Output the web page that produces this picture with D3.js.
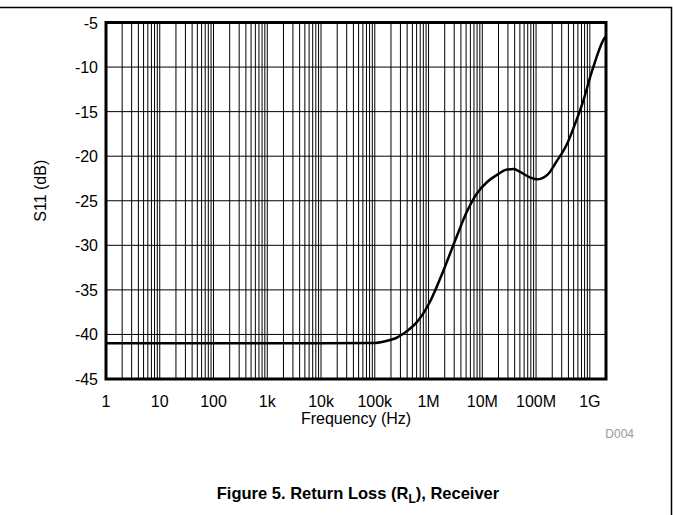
<!DOCTYPE html>
<html>
<head>
<meta charset="utf-8">
<script src="https://cdn.jsdelivr.net/npm/d3@7"></script>
<style>
  body { margin: 0; background: #fff; }
  svg { display: block; font-family: "Liberation Sans", Arial, sans-serif; }
</style>
</head>
<body>
<script>
// S11 return loss, receiver
var freqHz = [1, 10, 100, 1e3, 1e4, 1e5, 2e5, 2.5e5, 4e5, 5.9e5, 1.07e6, 1.87e6, 3.3e6, 5.1e6,
  7.9e6, 1.23e7, 1.87e7, 2.88e7, 3.86e7, 5.14e7, 7.9e7, 1.05e8, 1.62e8, 2.4e8, 3.92e8,
  4.78e8, 7.27e8, 1.12e9, 1.77e9, 1.95e9];
var s11dB = [-41, -41, -41, -41, -41, -40.95, -40.6, -40.4, -39.6, -38.7, -36.3, -32.9, -29.1, -26.3,
  -24.2, -22.9, -22.1, -21.5, -21.45, -21.8, -22.4, -22.6, -22.1, -20.6, -18.4,
  -17.1, -14.1, -10.3, -7.0, -6.6];

var xTickVals = [1, 10, 100, 1e3, 1e4, 1e5, 1e6, 1e7, 1e8, 1e9];
var xTickLabels = ["1", "10", "100", "1k", "10k", "100k", "1M", "10M", "100M", "1G"];
var yTickVals = [-45, -40, -35, -30, -25, -20, -15, -10, -5];

var W = 673, H = 515;
// note: "top" is taken by window.top, so plot edges get a prefix
var pLeft = 106, pRight = 606, pTop = 22.5, pBottom = 379;

var svg = d3.select("body").append("svg")
  .attr("width", W)
  .attr("height", H);

// outer frame (top + right only)
svg.append("path")
  .attr("d", "M0,7.5H671.5V515")
  .attr("fill", "none")
  .attr("stroke", "#000")
  .attr("stroke-width", 1.5);

var x = d3.scaleLog().domain([1, 2e9]).range([pLeft, pRight]);
var y = d3.scaleLinear().domain([-45, -5]).range([pBottom, pTop]);

// minor + major vertical grid
var gridF = [];
for (var e = 0; e <= 9; e++) {
  for (var m = 1; m <= 9; m++) {
    var f = m * Math.pow(10, e);
    if (f < 2e9) gridF.push(f);
  }
}
svg.append("g").selectAll("line")
  .data(gridF)
  .enter()
  .append("line")
  .attr("x1", function(d) { return x(d); })
  .attr("x2", function(d) { return x(d); })
  .attr("y1", pTop)
  .attr("y2", pBottom)
  .attr("stroke", "#000")
  .attr("stroke-width", 1);

svg.append("g").selectAll("line")
  .data(yTickVals)
  .enter()
  .append("line")
  .attr("x1", pLeft)
  .attr("x2", pRight)
  .attr("y1", function(d) { return y(d); })
  .attr("y2", function(d) { return y(d); })
  .attr("stroke", "#000")
  .attr("stroke-width", 1);

// curve
var line = d3.line()
  .x(function(d) { return x(d[0]); })
  .y(function(d) { return y(d[1]); })
  .curve(d3.curveMonotoneX);

svg.append("path")
  .datum(freqHz.map(function(f, i) { return [f, s11dB[i]]; }))
  .attr("d", line)
  .attr("fill", "none")
  .attr("stroke", "#000")
  .attr("stroke-width", 2.5);

// plot frame
svg.append("rect")
  .attr("x", pLeft)
  .attr("y", pTop)
  .attr("width", pRight - pLeft)
  .attr("height", pBottom - pTop)
  .attr("fill", "none")
  .attr("stroke", "#000")
  .attr("stroke-width", 3);

// axes labels
svg.append("g").selectAll("text")
  .data(xTickVals)
  .enter()
  .append("text")
  .text(function(d, i) { return xTickLabels[i]; })
  .attr("x", function(d) { return x(d); })
  .attr("y", 407)
  .attr("text-anchor", "middle")
  .attr("font-size", "16px")
  .attr("fill", "#000");

svg.append("g").selectAll("text")
  .data(yTickVals)
  .enter()
  .append("text")
  .text(function(d) { return d; })
  .attr("x", 98)
  .attr("y", function(d) { return y(d) + 6; })
  .attr("text-anchor", "end")
  .attr("font-size", "16px")
  .attr("fill", "#000");

svg.append("text")
  .text("Frequency (Hz)")
  .attr("x", 356)
  .attr("y", 424)
  .attr("text-anchor", "middle")
  .attr("font-size", "16px");

svg.append("text")
  .text("S11 (dB)")
  .attr("transform", "translate(46," + ((pTop + pBottom) / 2 - 10) + ") rotate(-90)")
  .attr("text-anchor", "middle")
  .attr("font-size", "16px");

svg.append("text")
  .text("D004")
  .attr("x", 634)
  .attr("y", 438)
  .attr("text-anchor", "end")
  .attr("font-size", "12px")
  .attr("fill", "#999");

// figure caption
var cap = svg.append("text")
  .attr("x", 358)
  .attr("y", 499)
  .attr("text-anchor", "middle")
  .attr("font-size", "16.5px")
  .attr("font-weight", "bold");
cap.append("tspan").text("Figure 5. Return Loss (R");
cap.append("tspan").text("L").attr("font-size", "12px").attr("dy", 4);
cap.append("tspan").text("), Receiver").attr("dy", -4);
</script>
</body>
</html>
